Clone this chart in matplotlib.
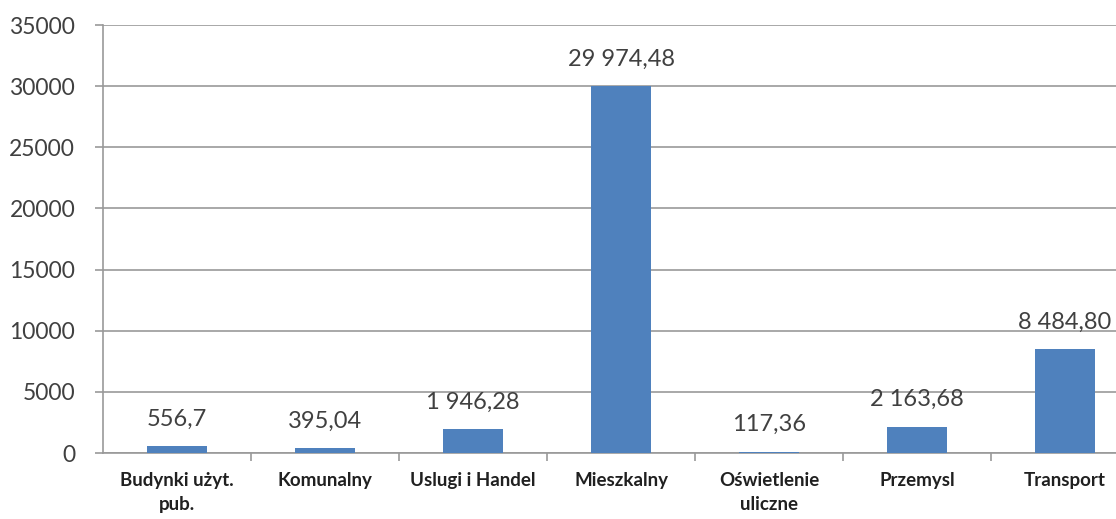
import matplotlib.pyplot as plt

categories = ['Budynki użyt.\npub.', 'Komunalny', 'Uslugi i Handel', 'Mieszkalny',
              'Oświetlenie\nuliczne', 'Przemysl', 'Transport']
values = [556.7, 395.04, 1946.28, 29974.48, 117.36, 2163.68, 8484.80]
value_labels = ['556,7', '395,04', '1 946,28', '29 974,48', '117,36', '2 163,68', '8 484,80']
yticks = [0, 5000, 10000, 15000, 20000, 25000, 30000, 35000]

plt.rcParams['font.family'] = ['Lato', 'DejaVu Sans']

fig = plt.figure(figsize=(11.16, 5.19), dpi=100)
ax = fig.add_axes([103 / 1116, 66 / 519, 1013 / 1116, 428 / 519])

x = range(len(categories))
ax.bar(x, values, width=0.4, color='#4F81BD', zorder=3)

# etykiety wartosci nad slupkami
for i, v in enumerate(values):
    ax.annotate(value_labels[i], (i, v), xytext=(0, 12), textcoords='offset points',
                ha='center', va='bottom', fontsize=17, color='#404040')

ax.set_ylim(0, 35000)
ax.set_xlim(-0.5, -0.5 + 1013 / 148)
ax.set_yticks(yticks)
ax.set_yticklabels([str(t) for t in yticks], fontsize=16.5, color='#404040')
ax.yaxis.grid(True, color='#999999', linewidth=1.2, zorder=0)

ax.set_xticks([i - 0.5 for i in range(1, len(categories))], minor=False)
ax.set_xticklabels([])
ax.set_xticks(list(x), minor=True)
ax.set_xticklabels(categories, minor=True, fontsize=13.5, fontweight='bold',
                   color='#202020', linespacing=1.5)
ax.tick_params(axis='x', which='minor', length=0, pad=14)
ax.tick_params(axis='x', which='major', length=6, color='#999999', width=1.2)
ax.tick_params(axis='y', length=6, color='#999999', width=1.2, pad=14)

for s in ['top', 'right']:
    ax.spines[s].set_visible(False)
ax.spines['left'].set_color('#999999')
ax.spines['bottom'].set_color('#999999')
ax.spines['left'].set_linewidth(1.2)
ax.spines['bottom'].set_linewidth(1.2)

fig.savefig('out.png', dpi=100)
